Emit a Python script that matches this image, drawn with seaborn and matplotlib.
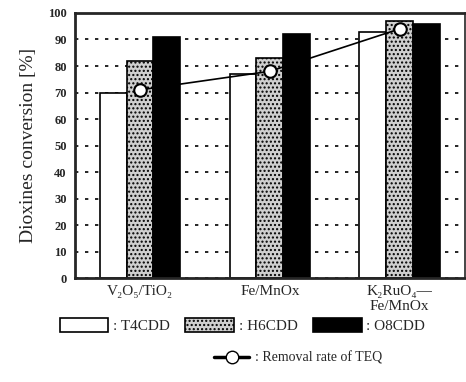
import numpy as np
import pandas as pd
import matplotlib
matplotlib.use("Agg")
import matplotlib.pyplot as plt
from matplotlib.patches import Patch
from matplotlib.lines import Line2D
import seaborn as sns

# data
catalysts = ["V\u2082O\u2085/TiO\u2082", "Fe/MnOx", "K\u2082RuO\u2084\u2014\nFe/MnOx"]
t4cdd = [70, 77, 93]
h6cdd = [82, 83, 97]
o8cdd = [91, 92, 96]
teq_removal = [71, 78, 94]
species = ["T4CDD", "H6CDD", "O8CDD"]
yticks = [0, 10, 20, 30, 40, 50, 60, 70, 80, 90, 100]

df = pd.DataFrame({
    "Catalyst": catalysts * 3,
    "Species": np.repeat(species, 3),
    "Conversion": t4cdd + h6cdd + o8cdd,
})
teq_df = pd.DataFrame({"Catalyst": catalysts, "TEQ": teq_removal})

sns.set_style("ticks")
serif = ["Liberation Serif", "DejaVu Serif"]
plt.rcParams["font.family"] = serif

fig = plt.figure(figsize=(4.66, 3.82), dpi=100)
ax = fig.add_axes([0.161, 0.272, 0.836, 0.694])

colors = {"T4CDD": "white", "H6CDD": "#cfcfcf", "O8CDD": "black"}
sns.barplot(data=df, x="Catalyst", y="Conversion", hue="Species",
            palette=colors, width=0.62, gap=0, edgecolor="black",
            linewidth=1.2, saturation=1, legend=False, ax=ax, zorder=2)
for p in ax.patches:
    if p.get_facecolor()[:3] == matplotlib.colors.to_rgb("#cfcfcf"):
        p.set_hatch("....")

sns.pointplot(data=teq_df, x="Catalyst", y="TEQ", color="black",
              markers="o", markersize=9, markerfacecolor="white",
              markeredgecolor="black", markeredgewidth=1.5,
              linewidth=1.2, ax=ax, zorder=5)

ax.set_ylim(0, 100)
ax.set_xlim(-0.5, 2.5)
ax.set_yticks(yticks)
ax.tick_params(axis="y", labelsize=9, direction="in", length=0, pad=6)
ax.tick_params(axis="x", labelsize=11, length=0, pad=5)
for lab in ax.get_yticklabels():
    lab.set_fontweight("bold")
ax.grid(axis="y", linestyle=(0, (2, 4)), color="black", linewidth=1.2, zorder=0)
ax.set_axisbelow(True)
ax.set_xlabel("")
ax.set_ylabel("Dioxines conversion [%]", fontsize=14, labelpad=8)
for s in ["left", "bottom", "top"]:
    ax.spines[s].set_linewidth(2)
ax.spines["right"].set_linewidth(1.2)

h_patches = [Patch(facecolor=colors[s], edgecolor="black", linewidth=1.2,
                   hatch="...." if s == "H6CDD" else None) for s in species]
leg1 = fig.legend(h_patches, [": " + s for s in species], ncol=3,
                  loc="center", bbox_to_anchor=(0.52, 0.148), frameon=False,
                  fontsize=11, handlelength=3.2, handleheight=1.0,
                  handletextpad=0.3, columnspacing=1.0)
h_line = Line2D([], [], color="black", linewidth=2.5, marker="o",
                markersize=9, markerfacecolor="white", markeredgecolor="black")
fig.legend([h_line], [": Removal rate of TEQ"], loc="center",
           bbox_to_anchor=(0.64, 0.062), frameon=False, fontsize=10,
           handlelength=2.5, handletextpad=0.4)

fig.savefig("out.png", dpi=100)
